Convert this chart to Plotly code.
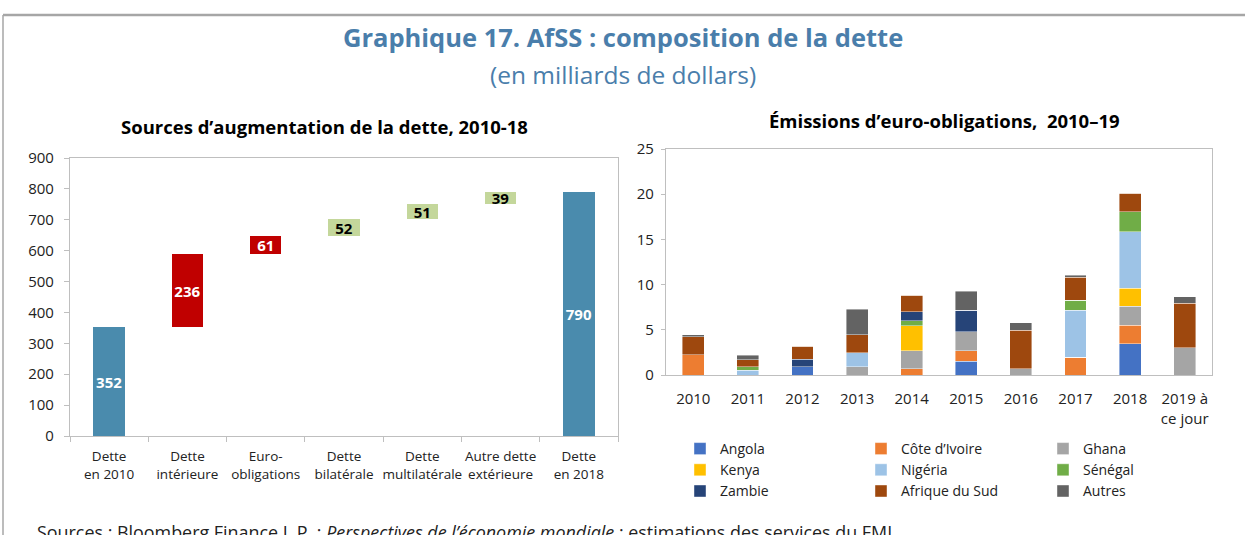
import plotly.graph_objects as go

W, H = 1245, 535

# ---------------- Data: left chart (waterfall of debt sources) ----------------
left_cats = ["Dette<br>en 2010", "Dette<br>intérieure", "Euro-<br>obligations", "Dette<br>bilatérale",
             "Dette<br>multilatérale", "Autre dette<br>extérieure", "Dette<br>en 2018"]
left_vals = [352, 236, 61, 52, 51, 39, 790]
left_kind = ["total", "hausse_rouge", "hausse_rouge", "hausse_vert", "hausse_vert", "hausse_vert", "total"]

# ---------------- Data: right chart (Eurobond issuance) ----------------
years = ["2010", "2011", "2012", "2013", "2014", "2015", "2016", "2017", "2018", "2019 à<br>ce jour"]
angola    = [0.00, 0.00, 0.92, 0.00, 0.00, 1.50, 0.00, 0.00, 3.46, 0.00]
cote_ivoire = [2.25, 0.00, 0.00, 0.00, 0.70, 1.20, 0.00, 1.95, 2.06, 0.00]
ghana     = [0.00, 0.00, 0.00, 0.92, 2.00, 2.06, 0.70, 0.00, 2.06, 3.02]
kenya     = [0.00, 0.00, 0.00, 0.00, 2.76, 0.00, 0.00, 0.00, 2.00, 0.00]
nigeria   = [0.00, 0.50, 0.00, 1.55, 0.00, 0.00, 0.00, 5.23, 6.26, 0.00]
senegal   = [0.00, 0.40, 0.00, 0.00, 0.55, 0.00, 0.00, 1.10, 2.20, 0.00]
zambie    = [0.00, 0.00, 0.80, 0.00, 1.00, 2.40, 0.00, 0.00, 0.00, 0.00]
afrique_sud = [2.00, 0.80, 1.47, 2.00, 1.80, 0.00, 4.27, 2.54, 2.06, 4.94]
autres    = [0.20, 0.50, 0.00, 2.80, 0.00, 2.13, 0.80, 0.20, 0.00, 0.70]

series = [
    ("Angola", angola, "#4472C4", "legend"),
    ("Côte d’Ivoire", cote_ivoire, "#ED7D31", "legend2"),
    ("Ghana", ghana, "#A5A5A5", "legend3"),
    ("Kenya", kenya, "#FFC000", "legend"),
    ("Nigéria", nigeria, "#9DC3E6", "legend2"),
    ("Sénégal", senegal, "#70AD47", "legend3"),
    ("Zambie", zambie, "#264478", "legend"),
    ("Afrique du Sud", afrique_sud, "#9E480E", "legend2"),
    ("Autres", autres, "#636363", "legend3"),
]

FONT = "Open Sans"
BLUE_T = "#4A7EAB"

kind_color = {"total": "#4A8BAD", "hausse_rouge": "#C00000", "hausse_vert": "#C4D79B"}
kind_text = {"total": "white", "hausse_rouge": "white", "hausse_vert": "black"}

bases = []
running = 0
for v, k in zip(left_vals, left_kind):
    if k == "total":
        bases.append(0)
        running = v
    else:
        bases.append(running)
        running += v

fig = go.Figure()

fig.add_trace(go.Bar(
    x=left_cats, y=left_vals, base=bases,
    marker=dict(color=[kind_color[k] for k in left_kind], line=dict(width=0)),
    text=[str(v) for v in left_vals], textposition="inside", insidetextanchor="middle", textangle=0,
    textfont=dict(family=FONT, size=15, color=[kind_text[k] for k in left_kind], weight="bold"),
    constraintext="none", cliponaxis=False,
    xaxis="x", yaxis="y", showlegend=False, hoverinfo="skip", width=0.4,
))

for name, vals, col, lg in series:
    fig.add_trace(go.Bar(
        x=years, y=vals, name=name, marker=dict(color=col, line=dict(color="rgba(255,255,255,0.7)", width=0.6)),
        xaxis="x2", yaxis="y2", legend=lg, width=0.4,
    ))

def py(px):
    return 1 - px / H

axis_font = dict(family=FONT, size=15, color="#222222")
leg_font = dict(family=FONT, size=14, color="#222222")
fig.update_layout(
    width=W, height=H, margin=dict(l=0, r=0, t=0, b=0, autoexpand=False),
    paper_bgcolor="white", plot_bgcolor="white",
    barmode="stack", showlegend=True,
    font=dict(family=FONT, color="#222222"),
    xaxis=dict(domain=[70 / W, 618 / W], anchor="y", showline=True, mirror=True, linecolor="#BFBFBF", linewidth=1.2,
               ticks="outside", tickson="boundaries", ticklen=5, tickcolor="#BFBFBF", tickangle=0,
               ticklabelstandoff=8,
               tickfont=dict(family=FONT, size=13.5, color="#222222"), showgrid=False, automargin=False),
    yaxis=dict(domain=[py(436), py(158)], anchor="x", range=[0, 900], dtick=100, showline=True, mirror=True,
               linecolor="#BFBFBF", linewidth=1.2, ticks="outside", ticklen=5, tickcolor="#BFBFBF",
               ticklabelstandoff=7,
               tickfont=axis_font, showgrid=False, zeroline=False, automargin=False),
    xaxis2=dict(domain=[666 / W, 1212 / W], anchor="y2", showline=True, mirror=True, linecolor="#BFBFBF",
                linewidth=1.2, ticks="", tickangle=0, ticklabelstandoff=10,
                tickfont=axis_font, showgrid=False, automargin=False),
    yaxis2=dict(domain=[py(375), py(149)], anchor="x2", range=[0, 25], dtick=5, showline=True, mirror=True,
                linecolor="#BFBFBF", linewidth=1.2, ticks="outside", ticklen=4, tickcolor="#BFBFBF",
                ticklabelstandoff=4,
                tickfont=axis_font, showgrid=False, zeroline=False, automargin=False),
    legend=dict(x=680 / W, y=py(433), xanchor="left", yanchor="top", traceorder="normal",
                font=leg_font, bgcolor="rgba(0,0,0,0)", itemclick=False),
    legend2=dict(x=861 / W, y=py(433), xanchor="left", yanchor="top", traceorder="normal",
                 font=leg_font, bgcolor="rgba(0,0,0,0)", itemclick=False),
    legend3=dict(x=1043 / W, y=py(433), xanchor="left", yanchor="top", traceorder="normal",
                 font=leg_font, bgcolor="rgba(0,0,0,0)", itemclick=False),
)

ann = [
    dict(text="<b>Graphique 17. AfSS : composition de la dette</b>", x=0.5, y=py(37), xanchor="center",
         yanchor="middle", font=dict(family=FONT, size=25.5, color=BLUE_T)),
    dict(text="(en milliards de dollars)", x=0.5, y=py(74), xanchor="center", yanchor="middle",
         font=dict(family=FONT, size=24.5, color=BLUE_T)),
    dict(text="<b>Sources d’augmentation de la dette, 2010-18</b>", x=324 / W, y=py(127), xanchor="center",
         yanchor="middle", font=dict(family=FONT, size=18.5, color="black")),
    dict(text="<b>Émissions d’euro-obligations,  2010–19</b>", x=944 / W, y=py(120), xanchor="center",
         yanchor="middle", font=dict(family=FONT, size=18.5, color="black")),
    dict(text="Sources : Bloomberg Finance L.P. ; <i>Perspectives de l’économie mondiale</i> ; estimations des services du FMI.",
         x=35 / W, y=py(518), xanchor="left", yanchor="top", font=dict(family=FONT, size=17.9, color="#222222")),
]
for a in ann:
    a.update(xref="paper", yref="paper", showarrow=False)
fig.update_layout(annotations=ann)

fig.update_layout(shapes=[
    dict(type="line", xref="paper", yref="paper", x0=3 / W, x1=1, y0=py(15), y1=py(15),
         line=dict(color="#A6A6A6", width=2.5)),
    dict(type="line", xref="paper", yref="paper", x0=3 / W, x1=3 / W, y0=py(15), y1=0,
         line=dict(color="#A6A6A6", width=1.5)),
])

fig.write_html("out.html", config={"displayModeBar": False},
               post_script="document.body.style.margin='0';document.body.style.overflow='hidden';")
